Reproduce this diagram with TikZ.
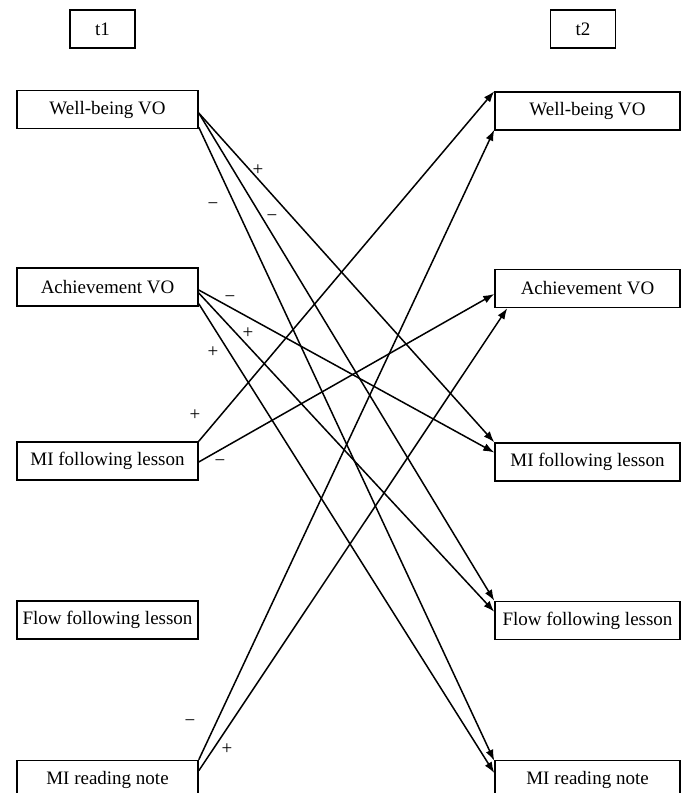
\documentclass[tikz,border=0pt]{standalone}
\usepackage{fontspec}
\setmainfont{Liberation Serif}
\usetikzlibrary{arrows.meta}
\begin{document}
\begin{tikzpicture}[x=1pt,y=-1pt,
  box/.style={draw,line width=1.5pt,inner sep=0pt,minimum height=38pt,font=\fontsize{19}{22}\selectfont},
  lbox/.style={box,minimum width=181pt},
  rbox/.style={box,minimum width=185pt},
  tbox/.style={box,minimum width=65pt},
  conn/.style={line width=1.5pt,-{Latex[length=11pt,width=8pt]}},
  sign/.style={inner sep=0pt,font=\fontsize{19}{22}\selectfont}
]
\useasboundingbox (0,0) rectangle (686,793);
\fill[white] (0,0) rectangle (686,793);

\node[tbox] (t1) at (102.5,29) {t1};
\node[tbox] (t2) at (583,29) {t2};

\node[lbox] (LW) at (107.5,109.5) {Well-being VO};
\node[lbox] (LA) at (107.5,287) {Achievement VO};
\node[lbox] (LM) at (107.5,461) {MI following lesson};
\node[lbox] (LF) at (107.5,620) {Flow following lesson};
\node[lbox] (LR) at (107.5,779.5) {MI reading note};

\node[rbox] (RW) at (587.5,111) {Well-being VO};
\node[rbox] (RA) at (587.5,288.5) {Achievement VO};
\node[rbox] (RM) at (587.5,462) {MI following lesson};
\node[rbox] (RF) at (587.5,620.5) {Flow following lesson};
\node[rbox] (RR) at (587.5,779.5) {MI reading note};

% Well-being VO (t1)
\draw[conn] ([yshift=-3.5pt]LW.east) -- (RM.north west);
\draw[conn] ([yshift=-3.5pt]LW.east) -- (RF.north west);
\draw[conn] ([yshift=2pt]LW.south east) -- ([yshift=-1pt]RR.north west);
% Achievement VO (t1)
\draw[conn] ([yshift=-3pt]LA.east) -- ([yshift=9.5pt]RM.west);
\draw[conn] ([yshift=-6pt]LA.east) -- ([yshift=-11pt]RF.north west);
\draw[conn] ([yshift=3pt]LA.south east) -- ([yshift=6.5pt]RR.west);
% MI following lesson (t1)
\draw[conn] (LM.north east) -- (RW.north west);
\draw[conn] ([yshift=-1pt]LM.east) -- ([yshift=-5.5pt]RA.west);
% MI reading note (t1)
\draw[conn] (LR.north east) -- ([yshift=1pt]RW.south west);
\draw[conn] ([yshift=-11pt]LR.north east) -- ([xshift=13pt]RA.south west);

% signs
\node[sign] (s1) at (258,170) {+};
\node[sign] (s2) at (272,218) {−};
\node[sign] (s3) at (213,206) {−};
\node[sign] (s4) at (230,299) {−};
\node[sign] (s5) at (248,333) {+};
\node[sign] (s6) at (213,352) {+};
\node[sign] (s7) at (195,415) {+};
\node[sign] (s8) at (220,463) {−};
\node[sign] (s9) at (190,723) {−};
\node[sign] (s10) at (227,749) {+};
\end{tikzpicture}
\end{document}
